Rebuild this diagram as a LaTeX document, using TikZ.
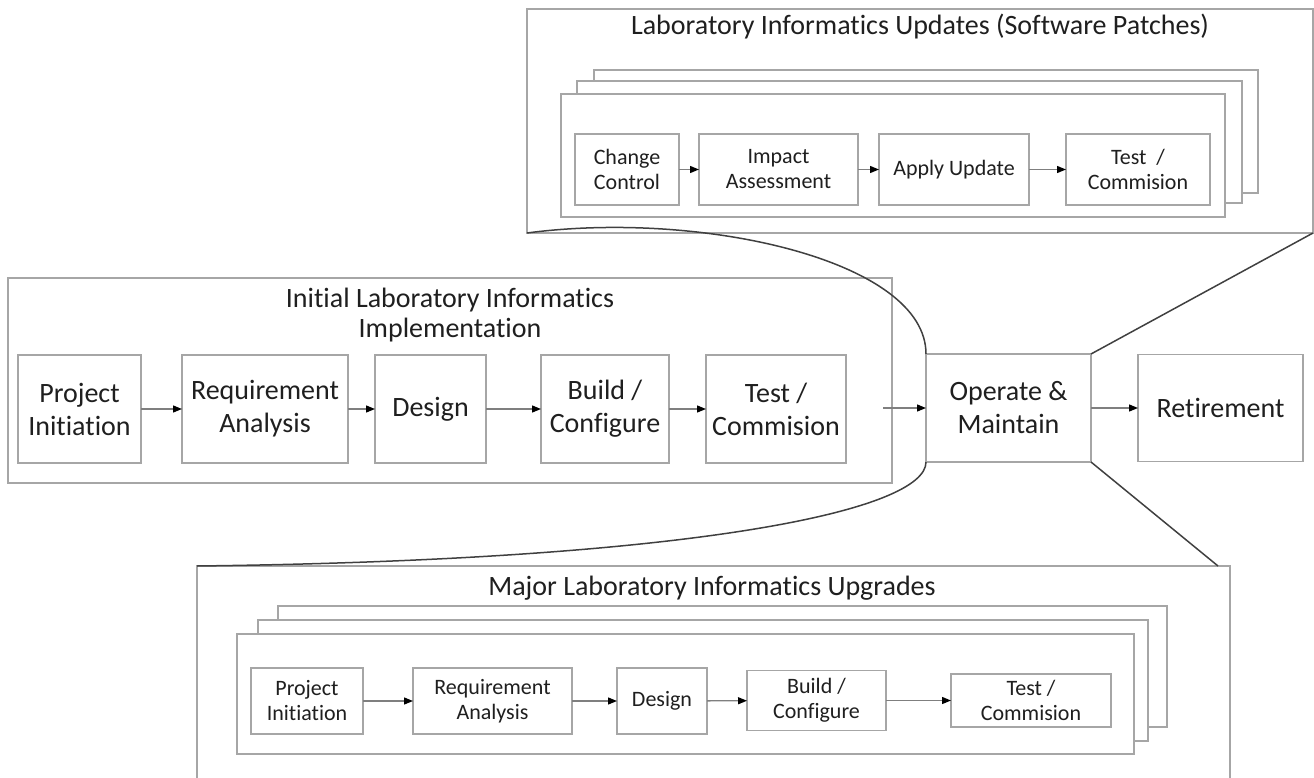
\documentclass[tikz,border=0pt]{standalone}
\usepackage{fontspec}
\setmainfont{Carlito}[Ligatures=NoCommon]
\usetikzlibrary{arrows.meta}
\definecolor{boxgray}{HTML}{A6A6A6}
\definecolor{curvegray}{HTML}{404040}
\definecolor{txt}{HTML}{1F1F1F}
\definecolor{arrgray}{HTML}{7F7F7F}
\begin{document}
\begin{tikzpicture}[x=1pt,y=-1pt,
  box/.style={draw=boxgray, line width=1.3pt, fill=white, inner sep=0pt, outer sep=0pt, text=txt, align=center},
  bigtxt/.style={font=\fontsize{28}{33}\selectfont},
  smalltxt/.style={font=\fontsize{22}{25}\selectfont},
  titletxt/.style={text=txt, inner sep=0pt, align=center, font=\fontsize{28}{30}\selectfont},
  flow/.style={draw=arrgray, line width=1.3pt, -{Triangle[length=9pt,width=7pt,color=black]}},
  link/.style={draw=curvegray, line width=1.5pt},
  ]
\useasboundingbox (0,0) rectangle (1314,778);
\clip (0,0) rectangle (1314,778);

% ---------- top: updates ----------
\node[box, minimum width=786, minimum height=224] (upd) at (920,121) {};
\node[titletxt, anchor=base] (updtitle) at (920,35) {Laboratory Informatics Updates (Software Patches)};
\node[box, minimum width=664, minimum height=123] (ucard3) at (926,131.5) {};
\node[box, minimum width=665, minimum height=122] (ucard2) at (909.5,142) {};
\node[box, minimum width=664, minimum height=123] (ucard1) at (893,155.5) {};
\node[box, smalltxt, minimum width=104, minimum height=71] (cc) at (627,169.5) {Change\\Control};
\node[box, smalltxt, minimum width=159, minimum height=71] (ia) at (778.5,169.5) {Impact\\Assessment};
\node[box, smalltxt, minimum width=150, minimum height=71] (au) at (954,169.5) {Apply Update};
\node[box, smalltxt, minimum width=144, minimum height=71] (utc) at (1138,169.5) {Test~~/\\Commision};
\draw[flow] (cc) -- (ia);
\draw[flow] (ia) -- (au);
\draw[flow] (au) -- (utc);

% ---------- middle: initial implementation ----------
\node[box, minimum width=884, minimum height=205] (init) at (450,380.5) {};
\node[titletxt] (inittitle) at (450,315) {Initial Laboratory Informatics\\Implementation};
\node[box, bigtxt, minimum width=123, minimum height=108] (pi) at (79.5,409) {Project\\Initiation};
\node[box, bigtxt, minimum width=166, minimum height=108] (ra) at (265,409) {Requirement\\Analysis};
\node[box, bigtxt, minimum width=111, minimum height=108] (de) at (430.5,409) {Design};
\node[box, bigtxt, minimum width=128, minimum height=108] (bc) at (605,409) {Build /\\Configure};
\node[box, bigtxt, minimum width=140, minimum height=108] (tc) at (776,409) {Test /\\Commision};
\draw[flow] (pi) -- (ra);
\draw[flow] (ra) -- (de);
\draw[flow] (de) -- (bc);
\draw[flow] (bc) -- (tc);

\node[box, bigtxt, minimum width=165, minimum height=108] (op) at (1008.5,408) {Operate \&\\Maintain};
\node[box, bigtxt, minimum width=165, minimum height=107] (ret) at (1220.5,408) {Retirement};
\coordinate (opin) at (883,408);
\draw[flow] (opin) -- (op);
\draw[flow] (op) -- (ret);

% ---------- bottom: major upgrades ----------
\node[box, minimum width=1033, minimum height=334] (maj) at (713.5,733) {};
\node[titletxt, anchor=base] (majtitle) at (712,595) {Major Laboratory Informatics Upgrades};
\node[box, minimum width=889, minimum height=121] (mcard3) at (722.5,666.5) {};
\node[box, minimum width=890, minimum height=121] (mcard2) at (703,680.5) {};
\node[box, minimum width=897, minimum height=120] (mcard1) at (685.5,694) {};
\node[box, smalltxt, minimum width=112, minimum height=66] (bpi) at (307,701) {Project\\Initiation};
\node[box, smalltxt, minimum width=159, minimum height=66] (bra) at (492.5,701) {Requirement\\Analysis};
\node[box, smalltxt, minimum width=90, minimum height=66] (bde) at (662,701) {Design};
\node[box, smalltxt, minimum width=139, minimum height=60] (bbc) at (816.5,700.5) {Build /\\Configure};
\node[box, smalltxt, minimum width=160, minimum height=53] (btc) at (1031,700.5) {Test /\\Commision};
\draw[flow] (bpi) -- (bra);
\draw[flow] (bra) -- (bde);
\draw[flow] (bde) -- (bbc);
\draw[flow] (bbc) -- (btc);

% ---------- zoom connectors ----------
\coordinate (majcorner) at (1218,566);
\draw[link] (upd.south west) .. controls (700,210) and (926,260) .. (op.north west);
\draw[link] (op.south west) .. controls (926,510) and (700,560) .. (maj.north west);
\draw[link] (op.north east) -- (upd.south east);
\draw[link] (op.south east) -- (majcorner);
\end{tikzpicture}
\end{document}
